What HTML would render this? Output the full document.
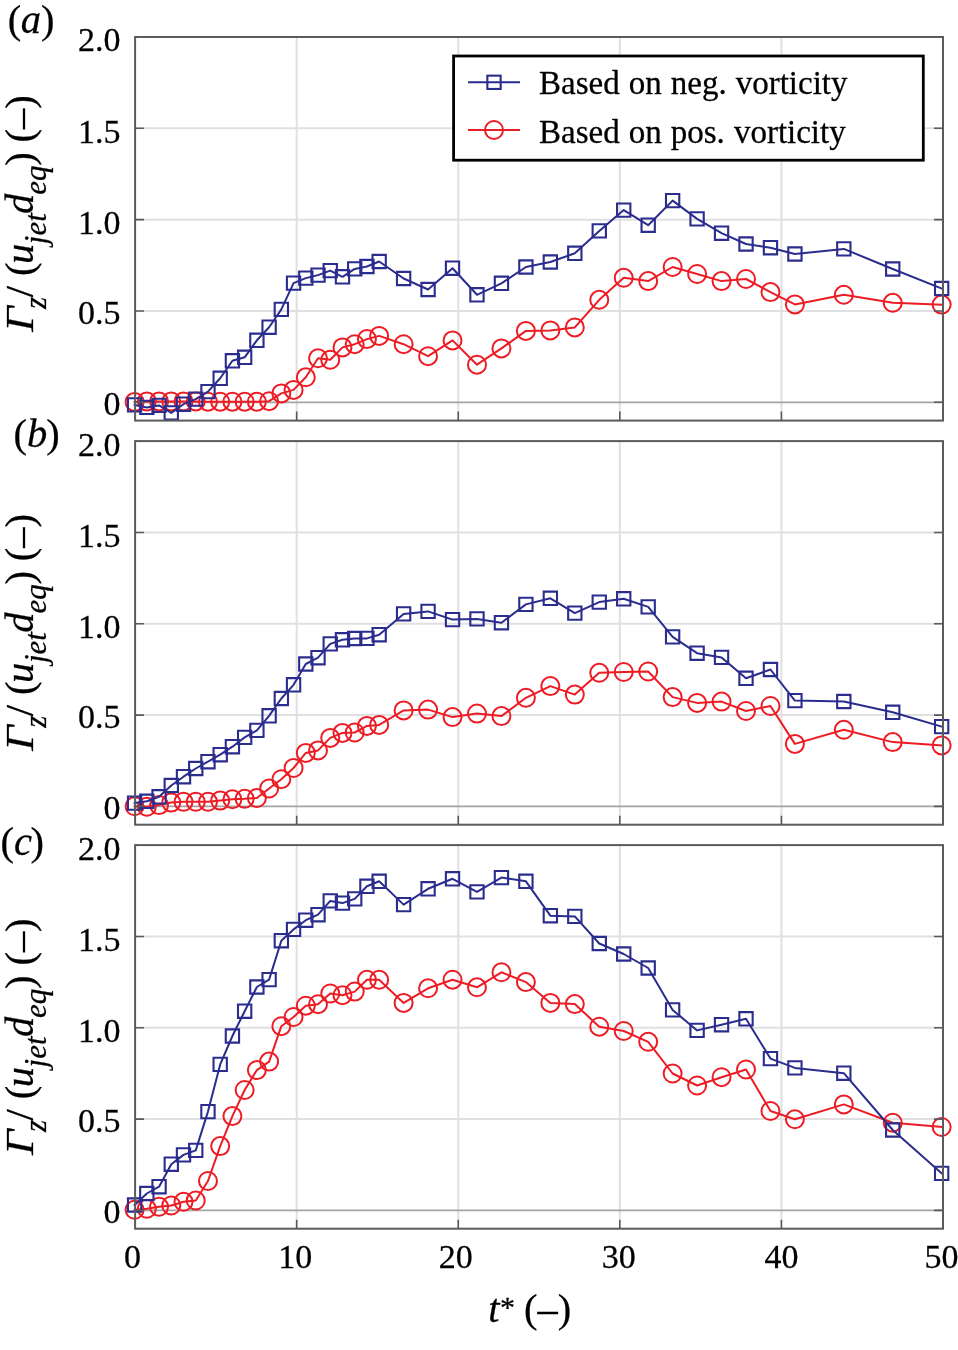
<!DOCTYPE html>
<html lang="en"><head><meta charset="utf-8"><title>Circulation versus time</title>
<style>html,body{margin:0;padding:0;background:#fff}svg{display:block}text{font-family:"Liberation Serif",serif;fill:#000;stroke:#000;stroke-width:.28px}.i{font-style:italic}</style></head><body>
<svg width="958" height="1350" viewBox="0 0 958 1350">
<rect width="958" height="1350" fill="#fff"/>
<g>
<line x1="296.68" y1="37" x2="296.68" y2="420.6" stroke="#e0e0e2" stroke-width="2"/>
<line x1="458.26" y1="37" x2="458.26" y2="420.6" stroke="#e0e0e2" stroke-width="2"/>
<line x1="619.84" y1="37" x2="619.84" y2="420.6" stroke="#e0e0e2" stroke-width="2"/>
<line x1="781.42" y1="37" x2="781.42" y2="420.6" stroke="#e0e0e2" stroke-width="2"/>
<line x1="135.1" y1="310.98" x2="943" y2="310.98" stroke="#e0e0e2" stroke-width="2"/>
<line x1="135.1" y1="219.65" x2="943" y2="219.65" stroke="#e0e0e2" stroke-width="2"/>
<line x1="135.1" y1="128.32" x2="943" y2="128.32" stroke="#e0e0e2" stroke-width="2"/>
<line x1="135.1" y1="402.3" x2="943" y2="402.3" stroke="#a2a4a8" stroke-width="1.8"/>
<polyline points="134.6,401.9 146.83,401.4 159.06,401.4 171.28,401.4 183.51,401.4 195.74,401.4 207.97,401.7 220.2,401.7 232.42,401.7 244.65,401.7 256.88,401.7 269.11,401.2 281.34,393.4 293.56,389.9 305.79,377.3 318.02,358.3 330.25,359.8 342.48,347.4 354.7,344.2 366.93,339.1 379.16,335.9 403.62,344.2 428.07,356.2 452.53,340.4 476.98,364.7 501.44,348.4 525.9,330.9 550.35,330.4 574.81,327.4 599.26,299.8 623.72,277.8 648.18,281.1 672.63,267 697.09,274 721.54,281.1 746,279 770.46,292.1 794.91,304.4 843.82,294.8 892.74,302.8 941.65,304.6" fill="none" stroke="#ed1c24" stroke-width="2.0" stroke-linejoin="round" stroke-linecap="square"/>
<g fill="none" stroke="#ed1c24" stroke-width="2.0">
<circle cx="134.6" cy="401.9" r="9"/><circle cx="146.83" cy="401.4" r="9"/><circle cx="159.06" cy="401.4" r="9"/><circle cx="171.28" cy="401.4" r="9"/><circle cx="183.51" cy="401.4" r="9"/><circle cx="195.74" cy="401.4" r="9"/><circle cx="207.97" cy="401.7" r="9"/><circle cx="220.2" cy="401.7" r="9"/><circle cx="232.42" cy="401.7" r="9"/><circle cx="244.65" cy="401.7" r="9"/><circle cx="256.88" cy="401.7" r="9"/><circle cx="269.11" cy="401.2" r="9"/><circle cx="281.34" cy="393.4" r="9"/><circle cx="293.56" cy="389.9" r="9"/><circle cx="305.79" cy="377.3" r="9"/><circle cx="318.02" cy="358.3" r="9"/><circle cx="330.25" cy="359.8" r="9"/><circle cx="342.48" cy="347.4" r="9"/><circle cx="354.7" cy="344.2" r="9"/><circle cx="366.93" cy="339.1" r="9"/><circle cx="379.16" cy="335.9" r="9"/><circle cx="403.62" cy="344.2" r="9"/><circle cx="428.07" cy="356.2" r="9"/><circle cx="452.53" cy="340.4" r="9"/><circle cx="476.98" cy="364.7" r="9"/><circle cx="501.44" cy="348.4" r="9"/><circle cx="525.9" cy="330.9" r="9"/><circle cx="550.35" cy="330.4" r="9"/><circle cx="574.81" cy="327.4" r="9"/><circle cx="599.26" cy="299.8" r="9"/><circle cx="623.72" cy="277.8" r="9"/><circle cx="648.18" cy="281.1" r="9"/><circle cx="672.63" cy="267" r="9"/><circle cx="697.09" cy="274" r="9"/><circle cx="721.54" cy="281.1" r="9"/><circle cx="746" cy="279" r="9"/><circle cx="770.46" cy="292.1" r="9"/><circle cx="794.91" cy="304.4" r="9"/><circle cx="843.82" cy="294.8" r="9"/><circle cx="892.74" cy="302.8" r="9"/><circle cx="941.65" cy="304.6" r="9"/>
</g>
<polyline points="134.6,404.9 146.83,407.4 159.06,405.4 171.28,412.9 183.51,404.2 195.74,399.1 207.97,391.6 220.2,378.3 232.42,360.8 244.65,357.3 256.88,340.3 269.11,327.2 281.34,309.4 293.56,283.1 305.79,278.1 318.02,275.1 330.25,270.6 342.48,276.8 354.7,268.9 366.93,266.5 379.16,261.5 403.62,278.5 428.07,289.5 452.53,268.2 476.98,294.8 501.44,283.3 525.9,267 550.35,262 574.81,253.3 599.26,230.9 623.72,210.1 648.18,225.2 672.63,200.6 697.09,218.9 721.54,233.2 746,244 770.46,247.7 794.91,254 843.82,248.9 892.74,269 941.65,288.5" fill="none" stroke="#2a2c8e" stroke-width="2.0" stroke-linejoin="round" stroke-linecap="square"/>
<path d="M127.95 398.25h13.3v13.3h-13.3zM140.18 400.75h13.3v13.3h-13.3zM152.41 398.75h13.3v13.3h-13.3zM164.63 406.25h13.3v13.3h-13.3zM176.86 397.55h13.3v13.3h-13.3zM189.09 392.45h13.3v13.3h-13.3zM201.32 384.95h13.3v13.3h-13.3zM213.55 371.65h13.3v13.3h-13.3zM225.77 354.15h13.3v13.3h-13.3zM238 350.65h13.3v13.3h-13.3zM250.23 333.65h13.3v13.3h-13.3zM262.46 320.55h13.3v13.3h-13.3zM274.69 302.75h13.3v13.3h-13.3zM286.91 276.45h13.3v13.3h-13.3zM299.14 271.45h13.3v13.3h-13.3zM311.37 268.45h13.3v13.3h-13.3zM323.6 263.95h13.3v13.3h-13.3zM335.83 270.15h13.3v13.3h-13.3zM348.05 262.25h13.3v13.3h-13.3zM360.28 259.85h13.3v13.3h-13.3zM372.51 254.85h13.3v13.3h-13.3zM396.97 271.85h13.3v13.3h-13.3zM421.42 282.85h13.3v13.3h-13.3zM445.88 261.55h13.3v13.3h-13.3zM470.33 288.15h13.3v13.3h-13.3zM494.79 276.65h13.3v13.3h-13.3zM519.25 260.35h13.3v13.3h-13.3zM543.7 255.35h13.3v13.3h-13.3zM568.16 246.65h13.3v13.3h-13.3zM592.61 224.25h13.3v13.3h-13.3zM617.07 203.45h13.3v13.3h-13.3zM641.53 218.55h13.3v13.3h-13.3zM665.98 193.95h13.3v13.3h-13.3zM690.44 212.25h13.3v13.3h-13.3zM714.89 226.55h13.3v13.3h-13.3zM739.35 237.35h13.3v13.3h-13.3zM763.81 241.05h13.3v13.3h-13.3zM788.26 247.35h13.3v13.3h-13.3zM837.17 242.25h13.3v13.3h-13.3zM886.09 262.35h13.3v13.3h-13.3zM935 281.85h13.3v13.3h-13.3z" fill="none" stroke="#2a2c8e" stroke-width="2.1"/>
<path d="M296.68 420.6V411.6M458.26 420.6V411.6M619.84 420.6V411.6M781.42 420.6V411.6M135.1 402.3H144.1M943 402.3H934M135.1 310.98H144.1M943 310.98H934M135.1 219.65H144.1M943 219.65H934M135.1 128.32H144.1M943 128.32H934" stroke="#5a5b5d" stroke-width="1.6" fill="none"/>
<rect x="135.1" y="37" width="807.9" height="383.6" fill="none" stroke="#5a5b5d" stroke-width="2"/>
<text x="120.5" y="415.1" font-size="34.0" text-anchor="end">0</text>
<text x="120.5" y="324.28" font-size="34.0" text-anchor="end">0.5</text>
<text x="120.5" y="233.65" font-size="34.0" text-anchor="end">1.0</text>
<text x="120.5" y="142.62" font-size="34.0" text-anchor="end">1.5</text>
<text x="120.5" y="51.4" font-size="34.0" text-anchor="end">2.0</text>
<g font-size="40.5"><text transform="translate(7.72 32.76) scale(1 0.97)">(</text><text class="i" x="20.7" y="32.76">a</text><text transform="translate(41.1 32.76) scale(1 0.97)">)</text></g>
<g transform="translate(33.2 332.2) rotate(-90)" font-size="40.5"><text class="i" transform="translate(0.4 0) scale(1.1 1)">Γ</text><text class="i" x="23.3" y="13.2" font-size="31.0">z</text><text x="34.9" y="0">/</text><text transform="translate(56.1 0) scale(1 0.97)">(</text><text class="i" x="68.2" y="0">u</text><text class="i" x="88" y="13.2" font-size="31.0">jet</text><text class="i" x="118.3" y="0">d</text><text class="i" x="137.5" y="13.2" font-size="31.0">eq</text><text transform="translate(166.5 0) scale(1 0.97)">)</text><text transform="translate(189.8 0) scale(1 0.97)">(–)</text></g>
</g>
<g>
<line x1="296.68" y1="441.1" x2="296.68" y2="824.7" stroke="#e0e0e2" stroke-width="2"/>
<line x1="458.26" y1="441.1" x2="458.26" y2="824.7" stroke="#e0e0e2" stroke-width="2"/>
<line x1="619.84" y1="441.1" x2="619.84" y2="824.7" stroke="#e0e0e2" stroke-width="2"/>
<line x1="781.42" y1="441.1" x2="781.42" y2="824.7" stroke="#e0e0e2" stroke-width="2"/>
<line x1="135.1" y1="715.08" x2="943" y2="715.08" stroke="#e0e0e2" stroke-width="2"/>
<line x1="135.1" y1="623.75" x2="943" y2="623.75" stroke="#e0e0e2" stroke-width="2"/>
<line x1="135.1" y1="532.43" x2="943" y2="532.43" stroke="#e0e0e2" stroke-width="2"/>
<line x1="135.1" y1="806.4" x2="943" y2="806.4" stroke="#a2a4a8" stroke-width="1.8"/>
<polyline points="134.6,806.3 146.83,806.8 159.06,805.1 171.28,802.6 183.51,801.8 195.74,801.8 207.97,801.8 220.2,800.6 232.42,799.3 244.65,798.8 256.88,798 269.11,788.5 281.34,779.2 293.56,768 305.79,752.9 318.02,750.4 330.25,737.9 342.48,732.9 354.7,732.5 366.93,725.9 379.16,724.9 403.62,710.4 428.07,709.6 452.53,717.1 476.98,713.6 501.44,716.1 525.9,697.8 550.35,686.1 574.81,694.6 599.26,672.8 623.72,672 648.18,671.5 672.63,697.1 697.09,702.9 721.54,701.6 746,711 770.46,706 794.91,743.9 843.82,729.8 892.74,742.1 941.65,745.4" fill="none" stroke="#ed1c24" stroke-width="2.0" stroke-linejoin="round" stroke-linecap="square"/>
<g fill="none" stroke="#ed1c24" stroke-width="2.0">
<circle cx="134.6" cy="806.3" r="9"/><circle cx="146.83" cy="806.8" r="9"/><circle cx="159.06" cy="805.1" r="9"/><circle cx="171.28" cy="802.6" r="9"/><circle cx="183.51" cy="801.8" r="9"/><circle cx="195.74" cy="801.8" r="9"/><circle cx="207.97" cy="801.8" r="9"/><circle cx="220.2" cy="800.6" r="9"/><circle cx="232.42" cy="799.3" r="9"/><circle cx="244.65" cy="798.8" r="9"/><circle cx="256.88" cy="798" r="9"/><circle cx="269.11" cy="788.5" r="9"/><circle cx="281.34" cy="779.2" r="9"/><circle cx="293.56" cy="768" r="9"/><circle cx="305.79" cy="752.9" r="9"/><circle cx="318.02" cy="750.4" r="9"/><circle cx="330.25" cy="737.9" r="9"/><circle cx="342.48" cy="732.9" r="9"/><circle cx="354.7" cy="732.5" r="9"/><circle cx="366.93" cy="725.9" r="9"/><circle cx="379.16" cy="724.9" r="9"/><circle cx="403.62" cy="710.4" r="9"/><circle cx="428.07" cy="709.6" r="9"/><circle cx="452.53" cy="717.1" r="9"/><circle cx="476.98" cy="713.6" r="9"/><circle cx="501.44" cy="716.1" r="9"/><circle cx="525.9" cy="697.8" r="9"/><circle cx="550.35" cy="686.1" r="9"/><circle cx="574.81" cy="694.6" r="9"/><circle cx="599.26" cy="672.8" r="9"/><circle cx="623.72" cy="672" r="9"/><circle cx="648.18" cy="671.5" r="9"/><circle cx="672.63" cy="697.1" r="9"/><circle cx="697.09" cy="702.9" r="9"/><circle cx="721.54" cy="701.6" r="9"/><circle cx="746" cy="711" r="9"/><circle cx="770.46" cy="706" r="9"/><circle cx="794.91" cy="743.9" r="9"/><circle cx="843.82" cy="729.8" r="9"/><circle cx="892.74" cy="742.1" r="9"/><circle cx="941.65" cy="745.4" r="9"/>
</g>
<polyline points="134.6,803.1 146.83,801.3 159.06,796.8 171.28,785.5 183.51,776.7 195.74,768.5 207.97,761.7 220.2,754.7 232.42,746.7 244.65,737.4 256.88,730.4 269.11,715.8 281.34,698.5 293.56,684.8 305.79,664 318.02,657.7 330.25,643.9 342.48,639.8 354.7,638.5 366.93,638.4 379.16,634.7 403.62,613.9 428.07,611.4 452.53,619.6 476.98,618.9 501.44,622.7 525.9,604.4 550.35,598.3 574.81,613.1 599.26,602.1 623.72,598.8 648.18,606.9 672.63,636.9 697.09,653.2 721.54,657.4 746,678.3 770.46,669.5 794.91,700.6 843.82,701.5 892.74,712.3 941.65,726.6" fill="none" stroke="#2a2c8e" stroke-width="2.0" stroke-linejoin="round" stroke-linecap="square"/>
<path d="M127.95 796.45h13.3v13.3h-13.3zM140.18 794.65h13.3v13.3h-13.3zM152.41 790.15h13.3v13.3h-13.3zM164.63 778.85h13.3v13.3h-13.3zM176.86 770.05h13.3v13.3h-13.3zM189.09 761.85h13.3v13.3h-13.3zM201.32 755.05h13.3v13.3h-13.3zM213.55 748.05h13.3v13.3h-13.3zM225.77 740.05h13.3v13.3h-13.3zM238 730.75h13.3v13.3h-13.3zM250.23 723.75h13.3v13.3h-13.3zM262.46 709.15h13.3v13.3h-13.3zM274.69 691.85h13.3v13.3h-13.3zM286.91 678.15h13.3v13.3h-13.3zM299.14 657.35h13.3v13.3h-13.3zM311.37 651.05h13.3v13.3h-13.3zM323.6 637.25h13.3v13.3h-13.3zM335.83 633.15h13.3v13.3h-13.3zM348.05 631.85h13.3v13.3h-13.3zM360.28 631.75h13.3v13.3h-13.3zM372.51 628.05h13.3v13.3h-13.3zM396.97 607.25h13.3v13.3h-13.3zM421.42 604.75h13.3v13.3h-13.3zM445.88 612.95h13.3v13.3h-13.3zM470.33 612.25h13.3v13.3h-13.3zM494.79 616.05h13.3v13.3h-13.3zM519.25 597.75h13.3v13.3h-13.3zM543.7 591.65h13.3v13.3h-13.3zM568.16 606.45h13.3v13.3h-13.3zM592.61 595.45h13.3v13.3h-13.3zM617.07 592.15h13.3v13.3h-13.3zM641.53 600.25h13.3v13.3h-13.3zM665.98 630.25h13.3v13.3h-13.3zM690.44 646.55h13.3v13.3h-13.3zM714.89 650.75h13.3v13.3h-13.3zM739.35 671.65h13.3v13.3h-13.3zM763.81 662.85h13.3v13.3h-13.3zM788.26 693.95h13.3v13.3h-13.3zM837.17 694.85h13.3v13.3h-13.3zM886.09 705.65h13.3v13.3h-13.3zM935 719.95h13.3v13.3h-13.3z" fill="none" stroke="#2a2c8e" stroke-width="2.1"/>
<path d="M296.68 824.7V815.7M458.26 824.7V815.7M619.84 824.7V815.7M781.42 824.7V815.7M135.1 806.4H144.1M943 806.4H934M135.1 715.08H144.1M943 715.08H934M135.1 623.75H144.1M943 623.75H934M135.1 532.43H144.1M943 532.43H934" stroke="#5a5b5d" stroke-width="1.6" fill="none"/>
<rect x="135.1" y="441.1" width="807.9" height="383.6" fill="none" stroke="#5a5b5d" stroke-width="2"/>
<text x="120.5" y="819.2" font-size="34.0" text-anchor="end">0</text>
<text x="120.5" y="728.38" font-size="34.0" text-anchor="end">0.5</text>
<text x="120.5" y="637.75" font-size="34.0" text-anchor="end">1.0</text>
<text x="120.5" y="546.73" font-size="34.0" text-anchor="end">1.5</text>
<text x="120.5" y="455.5" font-size="34.0" text-anchor="end">2.0</text>
<g font-size="40.5"><text transform="translate(13.52 446.66) scale(1 0.97)">(</text><text class="i" x="27" y="446.66">b</text><text transform="translate(46.2 446.66) scale(1 0.97)">)</text></g>
<g transform="translate(33.2 751.1) rotate(-90)" font-size="40.5"><text class="i" transform="translate(0.4 0) scale(1.1 1)">Γ</text><text class="i" x="23.3" y="13.2" font-size="31.0">z</text><text x="34.9" y="0">/</text><text transform="translate(56.1 0) scale(1 0.97)">(</text><text class="i" x="68.2" y="0">u</text><text class="i" x="88" y="13.2" font-size="31.0">jet</text><text class="i" x="118.3" y="0">d</text><text class="i" x="137.5" y="13.2" font-size="31.0">eq</text><text transform="translate(166.5 0) scale(1 0.97)">)</text><text transform="translate(189.8 0) scale(1 0.97)">(–)</text></g>
</g>
<g>
<line x1="296.68" y1="845.1" x2="296.68" y2="1228.7" stroke="#e0e0e2" stroke-width="2"/>
<line x1="458.26" y1="845.1" x2="458.26" y2="1228.7" stroke="#e0e0e2" stroke-width="2"/>
<line x1="619.84" y1="845.1" x2="619.84" y2="1228.7" stroke="#e0e0e2" stroke-width="2"/>
<line x1="781.42" y1="845.1" x2="781.42" y2="1228.7" stroke="#e0e0e2" stroke-width="2"/>
<line x1="135.1" y1="1119.08" x2="943" y2="1119.08" stroke="#e0e0e2" stroke-width="2"/>
<line x1="135.1" y1="1027.75" x2="943" y2="1027.75" stroke="#e0e0e2" stroke-width="2"/>
<line x1="135.1" y1="936.43" x2="943" y2="936.43" stroke="#e0e0e2" stroke-width="2"/>
<line x1="135.1" y1="1210.4" x2="943" y2="1210.4" stroke="#a2a4a8" stroke-width="1.8"/>
<polyline points="134.6,1209.8 146.83,1208.8 159.06,1206.8 171.28,1205.5 183.51,1201.8 195.74,1200.5 207.97,1181 220.2,1146.1 232.42,1116.1 244.65,1090 256.88,1070.1 269.11,1061.6 281.34,1026.2 293.56,1017 305.79,1005.7 318.02,1004.2 330.25,993.5 342.48,995.2 354.7,991.6 366.93,979.8 379.16,979.8 403.62,1002.9 428.07,988.3 452.53,979.7 476.98,987.3 501.44,972.3 525.9,982.1 550.35,1002.9 574.81,1004.1 599.26,1026.7 623.72,1031 648.18,1041.8 672.63,1073.5 697.09,1085.5 721.54,1077.2 746,1069.5 770.46,1111 794.91,1119.3 843.82,1104.4 892.74,1122.7 941.65,1127" fill="none" stroke="#ed1c24" stroke-width="2.0" stroke-linejoin="round" stroke-linecap="square"/>
<g fill="none" stroke="#ed1c24" stroke-width="2.0">
<circle cx="134.6" cy="1209.8" r="9"/><circle cx="146.83" cy="1208.8" r="9"/><circle cx="159.06" cy="1206.8" r="9"/><circle cx="171.28" cy="1205.5" r="9"/><circle cx="183.51" cy="1201.8" r="9"/><circle cx="195.74" cy="1200.5" r="9"/><circle cx="207.97" cy="1181" r="9"/><circle cx="220.2" cy="1146.1" r="9"/><circle cx="232.42" cy="1116.1" r="9"/><circle cx="244.65" cy="1090" r="9"/><circle cx="256.88" cy="1070.1" r="9"/><circle cx="269.11" cy="1061.6" r="9"/><circle cx="281.34" cy="1026.2" r="9"/><circle cx="293.56" cy="1017" r="9"/><circle cx="305.79" cy="1005.7" r="9"/><circle cx="318.02" cy="1004.2" r="9"/><circle cx="330.25" cy="993.5" r="9"/><circle cx="342.48" cy="995.2" r="9"/><circle cx="354.7" cy="991.6" r="9"/><circle cx="366.93" cy="979.8" r="9"/><circle cx="379.16" cy="979.8" r="9"/><circle cx="403.62" cy="1002.9" r="9"/><circle cx="428.07" cy="988.3" r="9"/><circle cx="452.53" cy="979.7" r="9"/><circle cx="476.98" cy="987.3" r="9"/><circle cx="501.44" cy="972.3" r="9"/><circle cx="525.9" cy="982.1" r="9"/><circle cx="550.35" cy="1002.9" r="9"/><circle cx="574.81" cy="1004.1" r="9"/><circle cx="599.26" cy="1026.7" r="9"/><circle cx="623.72" cy="1031" r="9"/><circle cx="648.18" cy="1041.8" r="9"/><circle cx="672.63" cy="1073.5" r="9"/><circle cx="697.09" cy="1085.5" r="9"/><circle cx="721.54" cy="1077.2" r="9"/><circle cx="746" cy="1069.5" r="9"/><circle cx="770.46" cy="1111" r="9"/><circle cx="794.91" cy="1119.3" r="9"/><circle cx="843.82" cy="1104.4" r="9"/><circle cx="892.74" cy="1122.7" r="9"/><circle cx="941.65" cy="1127" r="9"/>
</g>
<polyline points="134.6,1205 146.83,1193.5 159.06,1186.7 171.28,1164.2 183.51,1154.9 195.74,1150.4 207.97,1111.6 220.2,1064.4 232.42,1036 244.65,1011.2 256.88,987 269.11,979.6 281.34,940.7 293.56,929.4 305.79,920.2 318.02,914.7 330.25,900.9 342.48,903.1 354.7,898.9 366.93,886.3 379.16,881.3 403.62,904.6 428.07,888.8 452.53,878.8 476.98,891.9 501.44,877.6 525.9,881.3 550.35,915.7 574.81,916.4 599.26,943.5 623.72,954 648.18,968 672.63,1009.9 697.09,1030.4 721.54,1024.7 746,1018.8 770.46,1058.6 794.91,1067.9 843.82,1073.2 892.74,1130 941.65,1173.4" fill="none" stroke="#2a2c8e" stroke-width="2.0" stroke-linejoin="round" stroke-linecap="square"/>
<path d="M127.95 1198.35h13.3v13.3h-13.3zM140.18 1186.85h13.3v13.3h-13.3zM152.41 1180.05h13.3v13.3h-13.3zM164.63 1157.55h13.3v13.3h-13.3zM176.86 1148.25h13.3v13.3h-13.3zM189.09 1143.75h13.3v13.3h-13.3zM201.32 1104.95h13.3v13.3h-13.3zM213.55 1057.75h13.3v13.3h-13.3zM225.77 1029.35h13.3v13.3h-13.3zM238 1004.55h13.3v13.3h-13.3zM250.23 980.35h13.3v13.3h-13.3zM262.46 972.95h13.3v13.3h-13.3zM274.69 934.05h13.3v13.3h-13.3zM286.91 922.75h13.3v13.3h-13.3zM299.14 913.55h13.3v13.3h-13.3zM311.37 908.05h13.3v13.3h-13.3zM323.6 894.25h13.3v13.3h-13.3zM335.83 896.45h13.3v13.3h-13.3zM348.05 892.25h13.3v13.3h-13.3zM360.28 879.65h13.3v13.3h-13.3zM372.51 874.65h13.3v13.3h-13.3zM396.97 897.95h13.3v13.3h-13.3zM421.42 882.15h13.3v13.3h-13.3zM445.88 872.15h13.3v13.3h-13.3zM470.33 885.25h13.3v13.3h-13.3zM494.79 870.95h13.3v13.3h-13.3zM519.25 874.65h13.3v13.3h-13.3zM543.7 909.05h13.3v13.3h-13.3zM568.16 909.75h13.3v13.3h-13.3zM592.61 936.85h13.3v13.3h-13.3zM617.07 947.35h13.3v13.3h-13.3zM641.53 961.35h13.3v13.3h-13.3zM665.98 1003.25h13.3v13.3h-13.3zM690.44 1023.75h13.3v13.3h-13.3zM714.89 1018.05h13.3v13.3h-13.3zM739.35 1012.15h13.3v13.3h-13.3zM763.81 1051.95h13.3v13.3h-13.3zM788.26 1061.25h13.3v13.3h-13.3zM837.17 1066.55h13.3v13.3h-13.3zM886.09 1123.35h13.3v13.3h-13.3zM935 1166.75h13.3v13.3h-13.3z" fill="none" stroke="#2a2c8e" stroke-width="2.1"/>
<path d="M296.68 1228.7V1219.7M458.26 1228.7V1219.7M619.84 1228.7V1219.7M781.42 1228.7V1219.7M135.1 1210.4H144.1M943 1210.4H934M135.1 1119.08H144.1M943 1119.08H934M135.1 1027.75H144.1M943 1027.75H934M135.1 936.43H144.1M943 936.43H934" stroke="#5a5b5d" stroke-width="1.6" fill="none"/>
<rect x="135.1" y="845.1" width="807.9" height="383.6" fill="none" stroke="#5a5b5d" stroke-width="2"/>
<text x="120.5" y="1223.2" font-size="34.0" text-anchor="end">0</text>
<text x="120.5" y="1132.38" font-size="34.0" text-anchor="end">0.5</text>
<text x="120.5" y="1041.75" font-size="34.0" text-anchor="end">1.0</text>
<text x="120.5" y="950.73" font-size="34.0" text-anchor="end">1.5</text>
<text x="120.5" y="859.5" font-size="34.0" text-anchor="end">2.0</text>
<g font-size="40.5"><text transform="translate(0.42 855.06) scale(1 0.97)">(</text><text class="i" x="14.05" y="855.06">c</text><text transform="translate(30.6 855.06) scale(1 0.97)">)</text></g>
<g transform="translate(33.2 1155.4) rotate(-90)" font-size="40.5"><text class="i" transform="translate(0.4 0) scale(1.1 1)">Γ</text><text class="i" x="23.3" y="13.2" font-size="31.0">z</text><text x="34.9" y="0">/</text><text transform="translate(56.1 0) scale(1 0.97)">(</text><text class="i" x="68.2" y="0">u</text><text class="i" x="88" y="13.2" font-size="31.0">jet</text><text class="i" x="118.3" y="0">d</text><text class="i" x="137.5" y="13.2" font-size="31.0">eq</text><text transform="translate(166.5 0) scale(1 0.97)">)</text><text transform="translate(189.8 0) scale(1 0.97)">(–)</text></g>
</g>
<text x="132.4" y="1268" font-size="34.0" text-anchor="middle">0</text>
<text x="295.18" y="1268" font-size="34.0" text-anchor="middle">10</text>
<text x="455.76" y="1268" font-size="34.0" text-anchor="middle">20</text>
<text x="618.84" y="1268" font-size="34.0" text-anchor="middle">30</text>
<text x="781.42" y="1268" font-size="34.0" text-anchor="middle">40</text>
<text x="941.6" y="1268" font-size="34.0" text-anchor="middle">50</text>
<g font-size="40.5"><text class="i" x="488.3" y="1321.5">t</text><text x="500" y="1317" font-size="30">*</text><text transform="translate(524 1321.5) scale(1 0.97)">(–)</text></g>
<rect x="453.6" y="56" width="469.7" height="104.2" fill="#fff" stroke="#000" stroke-width="2.8"/>
<path d="M468 82.3H520" stroke="#2a2c8e" stroke-width="2.0"/>
<rect x="487.35" y="75.65" width="13.3" height="13.3" fill="none" stroke="#2a2c8e" stroke-width="2.1"/>
<path d="M468 130H520" stroke="#ed1c24" stroke-width="2.0"/>
<circle cx="494" cy="130" r="9.0" fill="none" stroke="#ed1c24" stroke-width="2"/>
<text x="539" y="93.6" font-size="33.0" word-spacing="0.8">Based on neg. vorticity</text>
<text x="539" y="143.3" font-size="33.0" word-spacing="0.8">Based on pos. vorticity</text>
</svg></body></html>
